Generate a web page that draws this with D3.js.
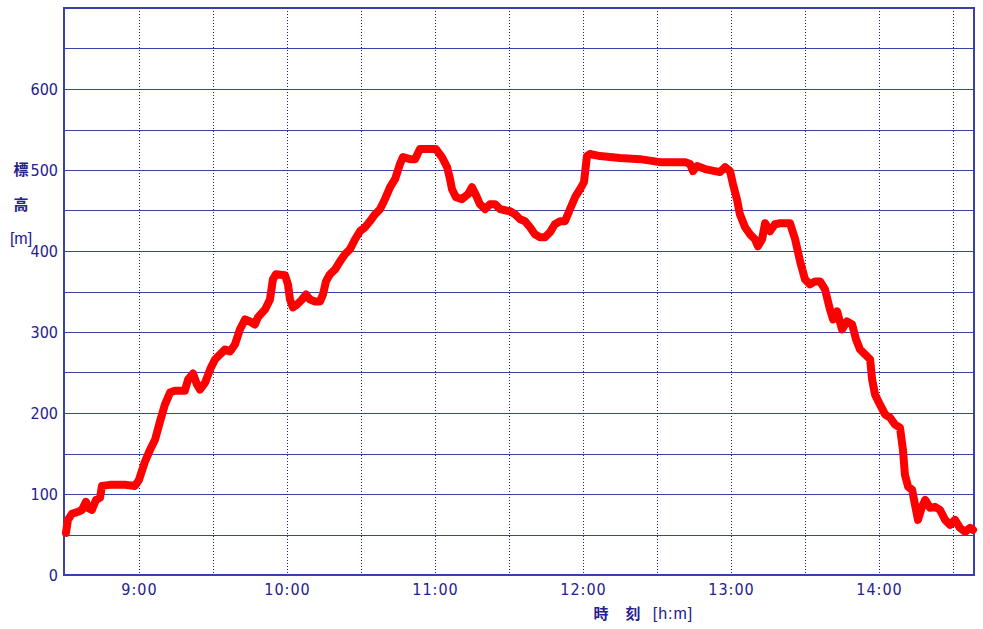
<!DOCTYPE html>
<html><head><meta charset="utf-8">
<script src="https://cdn.jsdelivr.net/npm/d3@7/dist/d3.min.js"></script>
<style>
body{margin:0;background:#fff;}
svg{display:block;}
</style></head>
<body>
<svg id="chart" width="983" height="629"></svg>
<script>
// time in minutes since midnight
const times = [510.4,511.2,512.8,515.3,516.9,518.5,519.3,520.9,522.6,524.2,525.0,528.2,534.3,538.4,540.0,542.4,544.5,546.5,548.5,550.5,552.6,554.6,558.6,559.9,561.9,563.5,564.7,566.8,568.8,570.8,572.8,574.9,576.9,578.9,580.9,583.0,585.0,587.0,588.2,591.1,593.1,594.3,595.5,599.2,600.4,601.2,602.4,604.1,606.1,607.7,609.3,611.4,613.4,614.6,615.8,617.4,619.5,621.5,623.5,625.5,627.6,629.6,631.6,633.6,635.7,637.7,639.7,641.8,643.8,645.8,647.0,649.9,651.9,653.9,658.0,660.4,662.8,664.9,666.1,666.9,668.5,670.9,673.4,675.0,676.6,678.2,680.3,682.3,684.3,686.4,688.4,690.4,692.4,694.5,696.5,698.5,700.5,702.6,704.6,706.6,708.6,710.7,712.7,714.7,716.8,718.8,720.4,721.6,722.8,726.9,735.0,743.1,751.2,761.4,763.4,764.6,766.2,769.5,773.5,775.5,777.6,779.6,780.8,782.4,783.6,785.7,787.7,789.7,790.9,792.6,793.8,795.8,797.8,799.9,803.9,806.0,808.0,810.0,812.0,814.1,816.1,818.1,820.1,821.4,823.0,825.0,827.0,829.1,830.7,832.3,834.4,836.4,837.2,838.4,840.4,842.5,844.5,846.5,848.5,849.7,850.5,851.8,853.4,854.6,855.8,857.4,858.7,860.7,862.7,864.7,866.8,868.8,870.8,872.8,874.9,876.9,878.1];
const elevations = [52,68,75.5,78,80.4,90.3,82.9,80.4,92.8,95.3,110,111.3,111.3,110,117.5,139.8,154.7,167,189.3,210.3,225.2,227.6,227.6,241.3,248.7,235.1,228.9,237.5,253.6,266,272.2,278.4,275.9,284.6,303.1,315.5,313,309.3,318,327.9,340.2,365,371.2,370,358.8,340.2,330.3,334,340.2,346.4,340.2,337.8,337.8,346.4,362.5,371.2,377.3,387.2,395.9,402.1,414.5,424.4,429.3,436.7,445.4,451.6,464,478.8,488.7,507.3,516,513.4,513.4,525.8,525.8,525.8,516,503.6,488.7,476.3,466.4,464,470.1,478.8,469,457.8,451.6,457.8,457.8,451.6,450.3,449.1,445.4,439.2,436.7,429.3,420.6,416.9,416.9,423.1,433,436.7,436.7,451.6,466.4,476.3,485,517.2,519.7,517.2,514.7,513.4,509.7,509.7,507.3,498.6,504.8,501.1,498.6,497.4,503.5,498.6,482.5,464,445.4,429.3,420.6,414.5,405.8,414.5,434.3,424.4,433,434.3,434.3,414.5,387.2,365,358.8,362.5,362.5,352.6,327.9,315.5,325.4,303.1,313,309.3,290.7,278.4,272.2,266,241.3,222.7,210.3,198,194.2,185.6,181.9,154.7,123.7,108.9,105.2,86.6,68,84.1,92.8,82.9,84.1,80.4,68,61.9,68,58.1,53.2,58.1,55.7];
const yTicks = [0,100,200,300,400,500,600];
const yGrid = [50,100,150,200,250,300,350,400,450,500,550,600,650];
const xLabelTicks = [540,600,660,720,780,840];
const xGridTicks = [540,570,600,630,660,690,720,750,780,810,840,870];
const timeDomain = [509.6,878.5];
const elevDomain = [0,700];

const svg = d3.select("#chart");
const L=64,R=974,T=8,B=575;
const x = d3.scaleLinear().domain(timeDomain).range([L,R]);
const y = d3.scaleLinear().domain(elevDomain).range([B,T]);
const gridColor="#3545a5", textColor="#24208f";

svg.append("rect").attr("width",983).attr("height",629).attr("fill","#fff");

// horizontal grid
svg.append("g").selectAll("line").data(yGrid).join("line")
  .attr("x1",L).attr("x2",R).attr("y1",d=>Math.round(y(d))+0.5).attr("y2",d=>Math.round(y(d))+0.5)
  .attr("stroke",gridColor).attr("stroke-width",1);
// vertical dotted grid
svg.append("g").selectAll("line").data(xGridTicks).join("line")
  .attr("x1",d=>Math.round(x(d))+0.5).attr("x2",d=>Math.round(x(d))+0.5).attr("y1",T).attr("y2",B)
  .attr("stroke","#1a1a70").attr("stroke-width",1).attr("stroke-dasharray","1,2");

// frame
svg.append("rect").attr("x",L).attr("y",T).attr("width",R-L).attr("height",B-T)
  .attr("fill","none").attr("stroke","#3a3faa").attr("stroke-width",2);

// y tick labels via axis
const yAxis = d3.axisLeft(y).tickValues(yTicks).tickSize(0).tickPadding(6).tickFormat(d3.format("d"));
const yg = svg.append("g").attr("transform",`translate(${L},0)`).call(yAxis);
yg.select(".domain").remove();
yg.selectAll("text").attr("fill",textColor).attr("font-family","'Liberation Sans Narrow','DejaVu Sans Condensed',sans-serif")
  .attr("font-size",16).attr("dy","0.36em");

// x tick labels
const fmt = m => `${Math.floor(m/60)}:${String(Math.round(m%60)).padStart(2,"0")}`;
const xAxis = d3.axisBottom(x).tickValues(xLabelTicks).tickSize(0).tickPadding(9).tickFormat(fmt);
const xg = svg.append("g").attr("transform",`translate(0,${B})`).call(xAxis);
xg.select(".domain").remove();
xg.selectAll("text").attr("fill",textColor).attr("font-family","'Liberation Sans Narrow','DejaVu Sans Condensed',sans-serif")
  .attr("font-size",16).attr("letter-spacing","1px");

// axis titles
const jp = "'Noto Sans CJK JP','Noto Sans CJK SC',sans-serif";
[["標",175],["高",210]].forEach(([t,yy])=>{
  svg.append("text").attr("x",21).attr("y",yy).attr("text-anchor","middle").attr("fill",textColor)
    .attr("font-family",jp).attr("font-size",15).attr("font-weight","bold").text(t);
});
svg.append("text").attr("x",21).attr("y",244).attr("text-anchor","middle").attr("fill",textColor)
  .attr("font-family","'Liberation Sans Narrow',sans-serif").attr("font-size",16).text("[m]");
svg.append("text").attr("x",601).attr("y",619).attr("text-anchor","middle").attr("fill",textColor)
  .attr("font-family",jp).attr("font-size",15).attr("font-weight","bold").text("時");
svg.append("text").attr("x",633).attr("y",619).attr("text-anchor","middle").attr("fill",textColor)
  .attr("font-family",jp).attr("font-size",15).attr("font-weight","bold").text("刻");
svg.append("text").attr("x",673).attr("y",619).attr("text-anchor","middle").attr("fill",textColor)
  .attr("font-family","'Liberation Sans Narrow',sans-serif").attr("font-size",16).attr("letter-spacing","1px").text("[h:m]");

// line
const data = times.map((t,i)=>({t,e:elevations[i]}));
const line = d3.line().x(d=>x(d.t)).y(d=>y(d.e));
svg.append("path").datum(data).attr("d",line).attr("fill","none")
  .attr("stroke","#ff0000").attr("stroke-width",8).attr("stroke-linejoin","round").attr("stroke-linecap","round");
</script>
</body></html>
